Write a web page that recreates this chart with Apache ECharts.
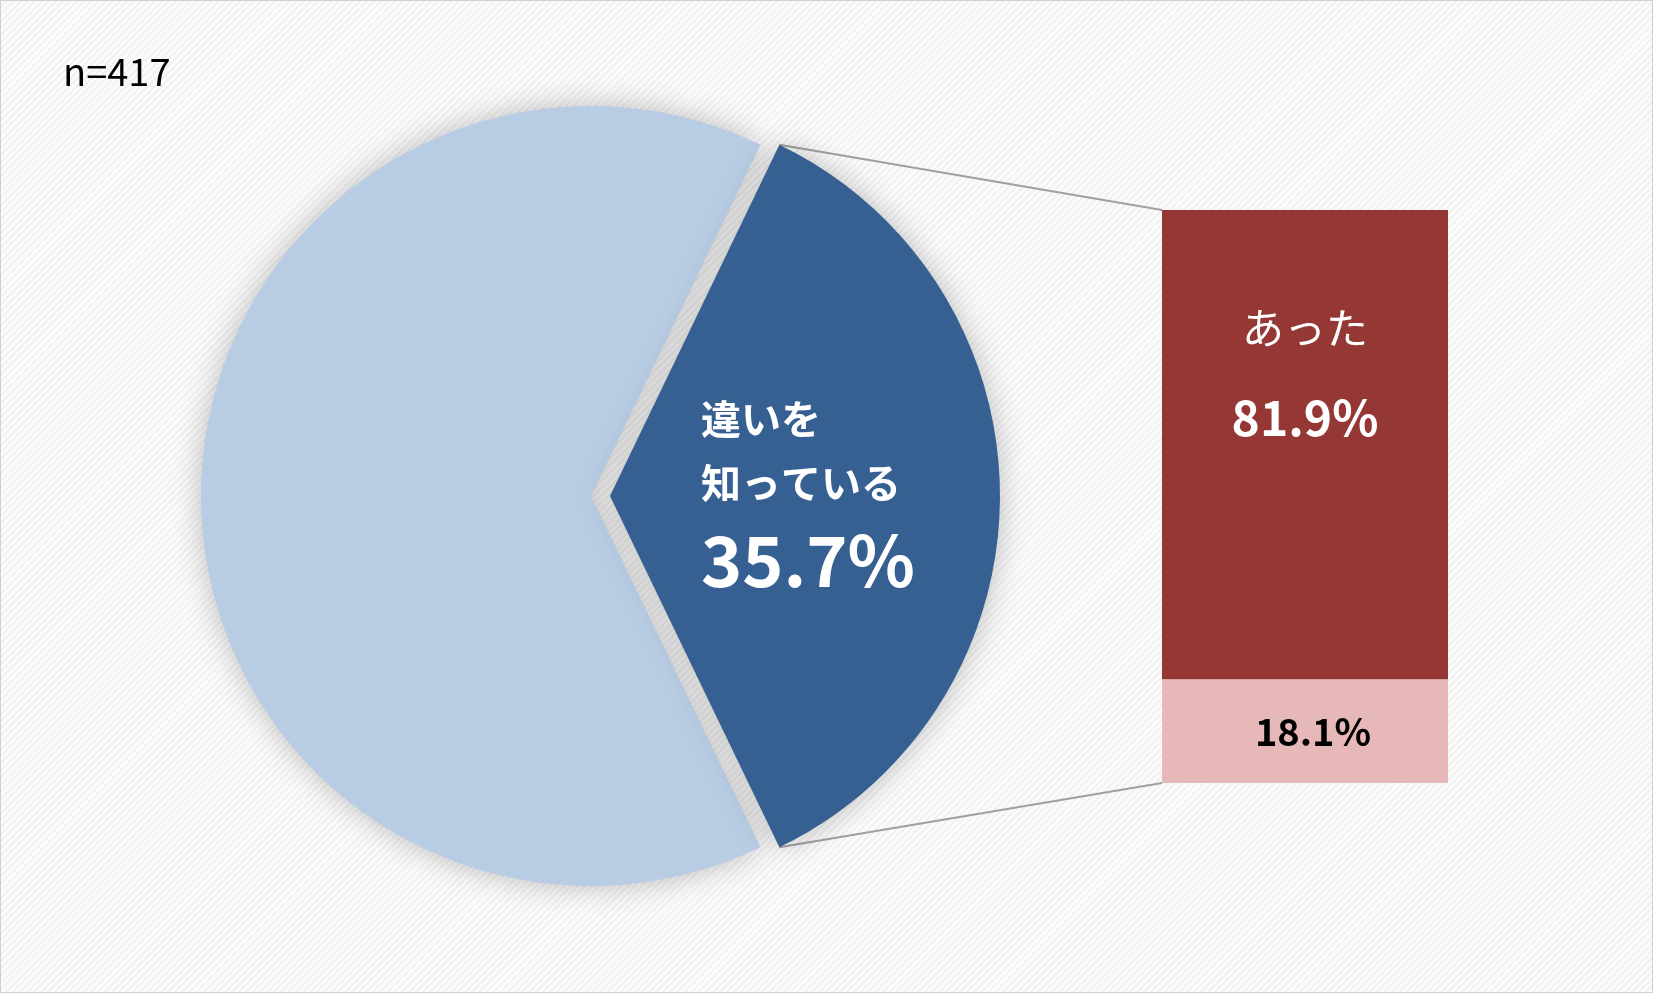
<!DOCTYPE html>
<html><head><meta charset="utf-8">
<script src="https://cdn.jsdelivr.net/npm/echarts@6/dist/echarts.min.js"></script>
<style>html,body{margin:0;padding:0;background:#fff}
#c{width:1651px;height:991px;border:1px solid #d0d0d0;background:repeating-linear-gradient(135deg,#fbfbfb 0 3px,#f1f1f1 3px 5px)}</style>
</head><body><div id="c"></div>
<script>
const pieNames = ['違いを\n知っている', 'その他'];
const pieValues = [35.7, 64.3];
const barNames = ['あった', 'なかった'];
const barValues = [81.9, 18.1];
const nLabel = 'n=417';

const chart = echarts.init(document.getElementById('c'));
const cx = 590, cy = 495, r = 390, off = 19;
const half = pieValues[0] / 100 * 180;
const a = half * Math.PI / 180;
const tx = cx + off + r * Math.cos(a), ty = cy - r * Math.sin(a), by = cy + r * Math.sin(a);
const bl = 1161, bt = 209, bw = 286, bh = 573;
const font = '"Noto Sans CJK JP", sans-serif';
chart.setOption({
  animation: false,
  graphic: [
    {type:'text', left:62, top:52, style:{text:nLabel, fontSize:38, fill:'#000', fontFamily:font}},
    {type:'line', shape:{x1:tx,y1:ty,x2:bl,y2:bt}, style:{stroke:'#a0a0a0', lineWidth:2}},
    {type:'line', shape:{x1:tx,y1:by,x2:bl,y2:bt+bh}, style:{stroke:'#a0a0a0', lineWidth:2}}
  ],
  grid: {left:bl, top:bt, width:bw, height:bh},
  xAxis: {type:'category', data:['x'], show:false},
  yAxis: {type:'value', max:100, show:false},
  series: [
    {type:'pie', center:[cx,cy], radius:r, startAngle:half, clockwise:true,
     selectedMode:'single', selectedOffset:off, avoidLabelOverlap:false,
     itemStyle:{shadowBlur:30, shadowColor:'rgba(0,0,0,0.25)'},
     data:[
      {name:pieNames[0], value:pieValues[0], selected:true, itemStyle:{color:'#366092'},
       label:{show:true, position:'inside', offset:[-28,-95],
        formatter:p=>'{a|'+p.name+'}\n{b|'+p.value+'%}',
        rich:{a:{color:'#fff', fontSize:40, fontWeight:'bold', lineHeight:64, fontFamily:font, align:'left'},
              b:{color:'#fff', fontSize:70, fontWeight:'bold', lineHeight:90, fontFamily:font}}}},
      {name:pieNames[1], value:pieValues[1], itemStyle:{color:'#b8cce4'}, label:{show:false}}
     ], labelLine:{show:false}},
    {type:'bar', stack:'s', barWidth:'100%', data:[barValues[1]], itemStyle:{color:'#e6b9b8'},
     label:{show:true, position:'inside', offset:[8,0], formatter:'{c}%', color:'#000', fontSize:38, fontWeight:'bold', fontFamily:font}},
    {type:'bar', stack:'s', barWidth:'100%', data:[barValues[0]], itemStyle:{color:'#953735'},
     label:{show:true, position:'insideTop', distance:68, formatter:p=>'{a|'+barNames[0]+'}\n{b|'+p.value+'%}',
      rich:{a:{color:'#fff', fontSize:42, lineHeight:100, fontFamily:font},
            b:{color:'#fff', fontSize:48, fontWeight:'bold', lineHeight:80, fontFamily:font}}}}
  ]
});
</script></body></html>
